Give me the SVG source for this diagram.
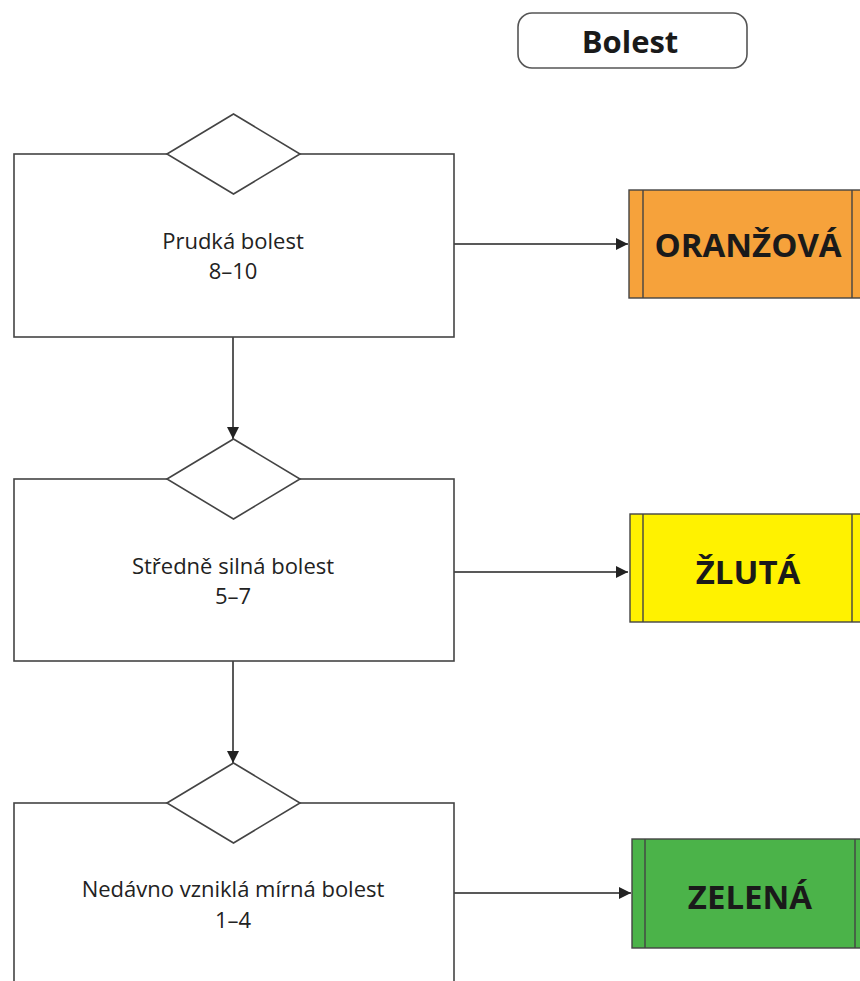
<svg xmlns="http://www.w3.org/2000/svg" width="860" height="981" viewBox="0 0 860 981">
<defs>
<marker id="arr" viewBox="0 0 10 10" refX="10" refY="5" markerWidth="17" markerHeight="12" markerUnits="userSpaceOnUse" orient="auto"><path d="M0,0 L10,5 L0,10 Z" fill="#222"/></marker>
</defs>
<style>
.box{fill:#fff;stroke:#444;stroke-width:1.6}
.lbl{font-family:"Open Sans","Noto Sans",sans-serif;font-size:22px;fill:#222;text-anchor:middle}
.res{font-family:"Open Sans","Noto Sans",sans-serif;font-size:33px;font-weight:bold;fill:#1a1a1a;text-anchor:middle}
.tag{stroke:#444;stroke-width:1.4}
.conn{stroke:#222;stroke-width:1.5;fill:none}
</style>
<rect width="860" height="981" fill="#fff"/>
<g id="title">
<rect x="518" y="13" width="229" height="55" rx="14" fill="#fff" stroke="#555" stroke-width="1.6"/>
<text x="630" y="53" font-family="'Open Sans','Noto Sans',sans-serif" font-size="31" font-weight="bold" fill="#1a1a1a" text-anchor="middle">Bolest</text>
</g>
<g id="connectors">
<line class="conn" x1="454" y1="244" x2="628" y2="244" marker-end="url(#arr)"/>
<line class="conn" x1="454" y1="572" x2="628" y2="572" marker-end="url(#arr)"/>
<line class="conn" x1="454" y1="893" x2="631" y2="893" marker-end="url(#arr)"/>
<line class="conn" x1="233" y1="337" x2="233" y2="439" marker-end="url(#arr)"/>
<line class="conn" x1="233" y1="661" x2="233" y2="763" marker-end="url(#arr)"/>
</g>
<g id="node1">
<rect class="box" x="14" y="154" width="440" height="183"/>
<polygon class="box" points="167,154 233.5,114 300,154 233.5,194"/>
<text class="lbl" x="233" y="249">Prudká bolest</text>
<text class="lbl" x="233" y="279">8–10</text>
</g>
<g id="node2">
<rect class="box" x="14" y="479" width="440" height="182"/>
<polygon class="box" points="167,479 233.5,439 300,479 233.5,519"/>
<text class="lbl" x="233" y="574">Středně silná bolest</text>
<text class="lbl" x="233" y="604">5–7</text>
</g>
<g id="node3">
<rect class="box" x="14" y="803" width="440" height="200"/>
<polygon class="box" points="167,803 233.5,763 300,803 233.5,843"/>
<text class="lbl" x="233" y="897">Nedávno vzniklá mírná bolest</text>
<text class="lbl" x="233" y="928">1–4</text>
</g>
<g id="orange">
<rect class="tag" x="629" y="190" width="240" height="108" fill="#F6A23B"/>
<line class="tag" x1="643" y1="190" x2="643" y2="298"/>
<line class="tag" x1="852" y1="190" x2="852" y2="298"/>
<text class="res" x="748" y="257">ORANŽOVÁ</text>
</g>
<g id="yellow">
<rect class="tag" x="630" y="514" width="240" height="108" fill="#FFF200"/>
<line class="tag" x1="643" y1="514" x2="643" y2="622"/>
<line class="tag" x1="852" y1="514" x2="852" y2="622"/>
<text class="res" x="748" y="584">ŽLUTÁ</text>
</g>
<g id="green">
<rect class="tag" x="632" y="839" width="240" height="109" fill="#4BB349"/>
<line class="tag" x1="645" y1="839" x2="645" y2="948"/>
<line class="tag" x1="855" y1="839" x2="855" y2="948"/>
<text class="res" x="750" y="909">ZELENÁ</text>
</g>
</svg>
